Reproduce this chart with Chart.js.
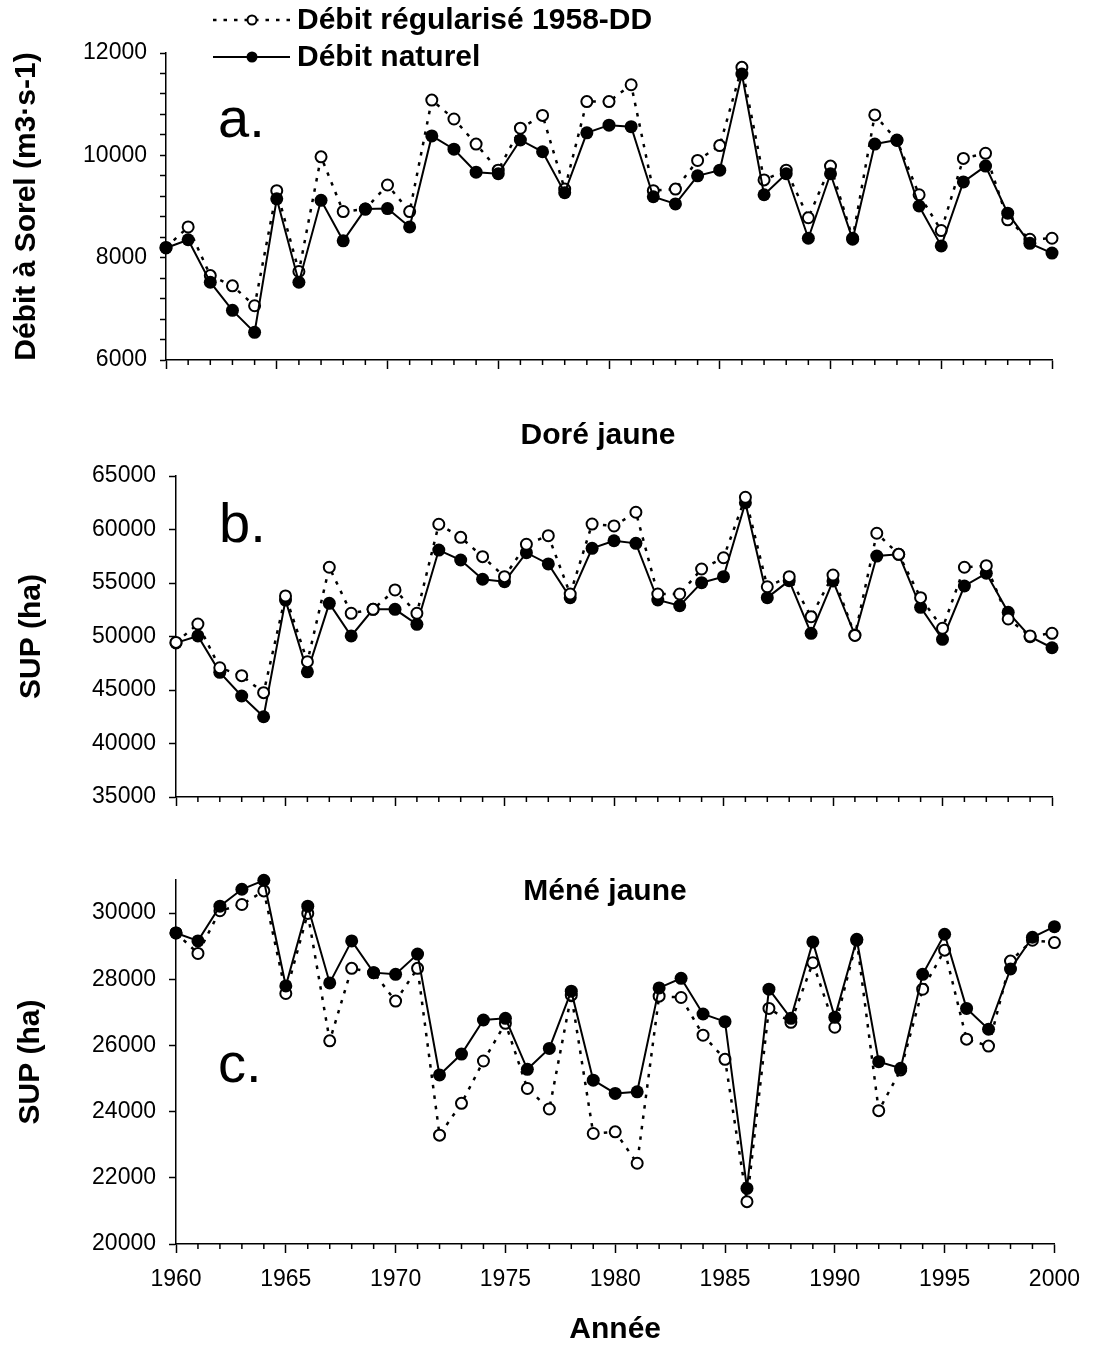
<!DOCTYPE html>
<html><head><meta charset="utf-8">
<script src="https://cdn.jsdelivr.net/npm/chart.js@4.4.1/dist/chart.umd.min.js"></script>
<style>
html,body{margin:0;padding:0;background:#fff;}
#wrap{position:relative;width:1093px;height:1345px;overflow:hidden;background:#fff;}
canvas{position:absolute;left:0;}
</style></head><body>
<div id="wrap">
<canvas id="ca" width="1093" height="400" style="top:0px;width:1093px;height:400px"></canvas>
<canvas id="cb" width="1093" height="440" style="top:400px;width:1093px;height:440px"></canvas>
<canvas id="cc" width="1093" height="505" style="top:840px;width:1093px;height:505px"></canvas>
</div>
<script>
const years = [1960,1961,1962,1963,1964,1965,1966,1967,1968,1969,1970,1971,1972,1973,1974,1975,1976,1977,1978,1979,1980,1981,1982,1983,1984,1985,1986,1987,1988,1989,1990,1991,1992,1993,1994,1995,1996,1997,1998,1999,2000];
const xTickYears = [1960,1965,1970,1975,1980,1985,1990,1995,2000];

const debitRegularise = [8200,8600,7650,7450,7060,9310,7730,9970,8900,8950,9420,8900,11080,10710,10220,9710,10530,10780,9340,11050,11050,11380,9310,9340,9900,10190,11720,9520,9710,8780,9790,8380,10790,10290,9230,8530,9940,10040,8740,8360,8380];
const debitNaturel = [8190,8350,7520,6970,6540,9150,7520,9120,8330,8950,8960,8600,10380,10120,9670,9640,10300,10070,9270,10440,10590,10560,9190,9050,9600,9710,11590,9230,9640,8380,9640,8360,10220,10300,9010,8230,9480,9790,8870,8280,8090];

const doreRegularise = [49450,51170,47080,46340,44750,53790,47650,56470,52170,52540,54350,52170,60490,59270,57460,55590,58620,59420,53970,60510,60330,61610,53970,53970,56310,57360,63010,54650,55590,51850,55750,50100,59650,57680,53630,50770,56470,56620,51640,50050,50300];
const doreNaturel = [49400,50050,46650,44440,42500,53400,46700,53100,50050,52540,52540,51140,58080,57150,55350,55120,57830,56780,53630,58240,58950,58710,53410,52880,55030,55590,62500,53630,55220,50300,55190,50140,57520,57680,52730,49740,54720,55910,52260,49980,48950];

const meneRegularise = [29400,28780,30070,30260,30670,27570,29990,26140,28330,28200,27340,28330,23290,24250,25530,26670,24700,24080,27520,23340,23390,22440,27490,27450,26310,25580,21280,27120,26700,28500,26550,29180,24030,25260,27700,28880,26190,25980,28550,29180,29110];
const meneNaturel = [29400,29160,30210,30720,30990,27800,30210,27890,29160,28200,28150,28760,25110,25740,26770,26820,25280,25910,27640,24950,24550,24600,27740,28030,26950,26720,21680,27700,26820,29130,26850,29210,25510,25310,28150,29360,27120,26490,28310,29270,29590];

// y tick positions (labelled ticks) and unlabelled minor tick positions
const yTicksA = [6000,6400,6800,7200,7600,8000,8400,8800,9200,9600,10000,10400,10800,11200,11600,12000];
const yLabelsA = [6000,8000,10000,12000];
const yTicksB = [35000,40000,45000,50000,55000,60000,65000];
const yTicksC = [20000,22000,24000,26000,28000,30000];

const seriesLabels = ['Débit régularisé 1958-DD', 'Débit naturel'];
const yTitles = ['Débit à Sorel (m3·s-1)', 'SUP (ha)', 'SUP (ha)'];
const panelTitles = ['', 'Doré jaune', 'Méné jaune'];
const panelLetters = ['a.', 'b.', 'c.'];
const xTitle = 'Année';

const FAM = "'Liberation Sans', Arial, Helvetica, sans-serif";
const BLACK = '#000';

function pts(vals){ return vals.map((v,i)=>({x:years[i], y:v})); }

function regDataset(vals, order){
  return {label: seriesLabels[0], data: pts(vals), order: order, clip: false,
    borderColor: BLACK, borderWidth: 2.5, borderDash: [3.5, 7],
    pointStyle: 'circle', pointRadius: 5.5, pointBorderWidth: 2,
    pointBackgroundColor: '#fff', pointBorderColor: BLACK, tension: 0};
}
function natDataset(vals, order){
  return {label: seriesLabels[1], data: pts(vals), order: order, clip: false,
    borderColor: BLACK, borderWidth: 2,
    pointStyle: 'circle', pointRadius: 6.5, pointBorderWidth: 0,
    pointBackgroundColor: BLACK, pointBorderColor: BLACK, tension: 0};
}

const minorTicks = {
  id: 'minorTicks',
  afterDraw(chart){
    const xs = chart.scales.x, ctx = chart.ctx, b = chart.chartArea.bottom;
    ctx.save(); ctx.strokeStyle = BLACK; ctx.lineWidth = 1.5;
    for (const yr of years){
      if (xTickYears.includes(yr)) continue;
      const px = xs.getPixelForValue(yr);
      ctx.beginPath(); ctx.moveTo(px, b); ctx.lineTo(px, b + 5); ctx.stroke();
    }
    ctx.restore();
  }
};

function decor(idx, letterPos, titlePos){
  return {
    id: 'decor' + idx,
    afterDraw(chart){
      const ctx = chart.ctx;
      ctx.save();
      ctx.fillStyle = BLACK;
      ctx.font = '56px ' + FAM;
      ctx.textAlign = 'left'; ctx.textBaseline = 'alphabetic';
      ctx.fillText(panelLetters[idx], letterPos[0], letterPos[1]);
      if (panelTitles[idx]) {
        ctx.font = 'bold 30px ' + FAM;
        ctx.textAlign = 'center'; ctx.textBaseline = 'middle';
        ctx.fillText(panelTitles[idx], titlePos[0], titlePos[1]);
      }
      ctx.restore();
    }
  };
}

const legendPlugin = {
  id: 'legendDraw',
  afterDraw(chart){
    const ctx = chart.ctx;
    const rows = [{y: 20, ds: chart.data.datasets.find(d => d.label === seriesLabels[0])},
                  {y: 57, ds: chart.data.datasets.find(d => d.label === seriesLabels[1])}];
    ctx.save();
    for (const r of rows){
      const ds = r.ds;
      ctx.strokeStyle = ds.borderColor; ctx.lineWidth = ds.borderWidth;
      ctx.setLineDash(ds.borderDash || []);
      ctx.beginPath(); ctx.moveTo(213, r.y); ctx.lineTo(290, r.y); ctx.stroke();
      ctx.setLineDash([]);
      ctx.beginPath(); ctx.arc(252, r.y, ds.pointRadius - 1, 0, Math.PI*2);
      ctx.fillStyle = ds.pointBackgroundColor; ctx.fill();
      if (ds.pointBorderWidth) { ctx.lineWidth = ds.pointBorderWidth; ctx.strokeStyle = ds.pointBorderColor; ctx.stroke(); }
      ctx.fillStyle = BLACK; ctx.font = 'bold 30px ' + FAM;
      ctx.textAlign = 'left'; ctx.textBaseline = 'middle';
      ctx.fillText(ds.label, 297, r.y + 1);
    }
    ctx.restore();
  }
};

function makeChart(id, cfg){
  const xScale = {
    type: 'linear', min: 1960, max: 2000, offset: false,
    ticks: { autoSkip: false, maxRotation: 0, color: BLACK,
      font: {family: FAM, size: 23}, padding: cfg.xPad || 3,
      callback: v => cfg.xLabels ? String(v) : '' },
    grid: { display: true, drawOnChartArea: false, drawTicks: true, tickLength: 9, tickColor: BLACK, tickWidth: 1.5 },
    border: { display: true, color: BLACK, width: 1.5 },
    title: cfg.xTitle ? { display: true, text: cfg.xTitle, color: BLACK,
      font: {family: FAM, size: 30, weight: 'bold', lineHeight: 1}, padding: {top: 0, bottom: 0} } : {display: false},
    afterBuildTicks: s => { s.ticks = xTickYears.map(v => ({value: v})); },
    afterFit: s => { s.height = cfg.xH; }
  };
  const yScale = {
    type: 'linear', min: cfg.yMin, max: cfg.yMax,
    ticks: { autoSkip: false, color: BLACK,
      font: {family: FAM, size: 23}, padding: 13,
      callback: v => (cfg.yLabels.includes(v) ? String(v) : '') },
    grid: { display: true, drawOnChartArea: false, drawTicks: true, tickLength: cfg.yTick, tickColor: BLACK, tickWidth: 1.5 },
    border: { display: true, color: BLACK, width: 1.5 },
    title: { display: true, text: cfg.yTitle, color: BLACK,
      font: {family: FAM, size: 30, weight: 'bold', lineHeight: 1}, padding: {top: cfg.yTitlePad, bottom: 0} },
    afterBuildTicks: s => { s.ticks = cfg.yTicks.map(v => ({value: v})); },
    afterFit: s => { s.width = cfg.yW; }
  };
  return new Chart(document.getElementById(id), {
    type: 'line',
    data: { datasets: cfg.datasets },
    options: {
      responsive: false, animation: false, devicePixelRatio: 1,
      layout: { padding: { left: 0, right: cfg.padR, top: cfg.padT, bottom: 0 } },
      plugins: { legend: {display: false}, tooltip: {enabled: false}, title: {display: false} },
      scales: { x: xScale, y: yScale },
      elements: { line: { borderJoinStyle: 'miter' } }
    },
    plugins: cfg.plugins
  });
}

// Panel a
makeChart('ca', {
  datasets: [natDataset(debitNaturel, 0), regDataset(debitRegularise, 1)],
  yMin: 6000, yMax: 12000, yTicks: yTicksA, yLabels: yLabelsA, yTick: 6,
  yTitle: yTitles[0], yTitlePad: 12, yW: 166, padR: 41, padT: 53, xH: 40,
  xLabels: false,
  plugins: [minorTicks, decor(0, [218, 137], [0, 0]), legendPlugin]
});

// Panel b
makeChart('cb', {
  datasets: [regDataset(doreRegularise, 0), natDataset(doreNaturel, 1)],
  yMin: 35000, yMax: 65000, yTicks: yTicksB, yLabels: yTicksB, yTick: 7,
  yTitle: yTitles[1], yTitlePad: 17, yW: 176, padR: 41, padT: 76, xH: 43,
  xLabels: false,
  plugins: [minorTicks, decor(1, [219, 142], [598, 36])]
});

// Panel c
makeChart('cc', {
  datasets: [natDataset(meneNaturel, 0), regDataset(meneRegularise, 1)],
  yMin: 20000, yMax: 31000, yTicks: yTicksC, yLabels: yTicksC, yTick: 7,
  yTitle: yTitles[2], yTitlePad: 16, yW: 176, padR: 33, padT: 40, xH: 101,
  xLabels: true, xPad: 13, xTitle: xTitle,
  plugins: [minorTicks, decor(2, [218, 242], [605, 52])]
});
</script>
</body></html>
